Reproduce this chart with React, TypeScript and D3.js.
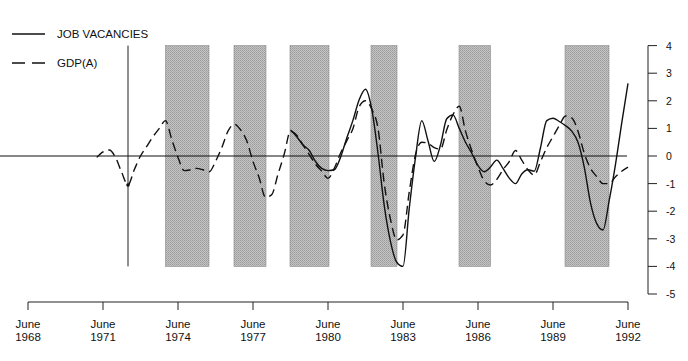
import React from "react";
import * as d3 from "d3";

// Quarterly data, decimal years (June YYYY = YYYY.5)
const gdpDates = [
  1971.25, 1971.5, 1971.75, 1972.0, 1972.25, 1972.5, 1972.75, 1973.0, 1973.25, 1973.5, 1973.75,
  1974.0, 1974.25, 1974.5, 1974.75, 1975.0, 1975.25, 1975.5, 1975.75, 1976.0, 1976.25, 1976.5, 1976.75,
  1977.0, 1977.25, 1977.5, 1977.75, 1978.0, 1978.25, 1978.5, 1978.75, 1979.0, 1979.25, 1979.5, 1979.75,
  1980.0, 1980.25, 1980.5, 1980.75, 1981.0, 1981.25, 1981.5, 1981.75, 1982.0, 1982.25, 1982.5, 1982.75,
  1983.0, 1983.25, 1983.5, 1983.75, 1984.0, 1984.25, 1984.5, 1984.75, 1985.0, 1985.25, 1985.5, 1985.75,
  1986.0, 1986.25, 1986.5, 1986.75, 1987.0, 1987.25, 1987.5, 1987.75, 1988.0, 1988.25, 1988.5, 1988.75,
  1989.0, 1989.25, 1989.5, 1989.75, 1990.0, 1990.25, 1990.5, 1990.75, 1991.0, 1991.25, 1991.5, 1991.75,
  1992.0, 1992.25, 1992.5,
];
const gdpValues = [
  -0.05, 0.15, 0.22, -0.05, -0.6, -1.05, -0.5, 0.0, 0.35, 0.7, 1.0,
  1.28, 0.6, -0.05, -0.53, -0.5, -0.45, -0.5, -0.57, -0.2, 0.3, 0.9, 1.15,
  0.95, 0.55, -0.2, -0.8, -1.5, -1.4, -0.66, 0.07, 0.9, 0.75, 0.4, 0.05,
  -0.3, -0.55, -0.81, -0.45, 0.1, 0.55, 1.0, 1.79, 2.0, 1.7, 1.0, -1.0,
  -2.3, -3.04, -2.86, -1.3, 0.05, 0.5, 0.46, 0.3, 0.25, 0.95, 1.5, 1.8,
  0.9, 0.2, -0.4, -0.9, -1.05, -0.85, -0.5, -0.2, 0.2, -0.15, -0.5, -0.69,
  -0.2, 0.3, 0.7, 1.1, 1.45, 1.38, 0.9, 0.1, -0.45, -0.75, -1.0, -1.0,
  -0.75, -0.55, -0.4,
];

const jvDates = [
  1979.0, 1979.25, 1979.5, 1979.75, 1980.0, 1980.25, 1980.5, 1980.75, 1981.0, 1981.25, 1981.5, 1981.75,
  1982.0, 1982.25, 1982.5, 1982.75, 1983.0, 1983.25, 1983.5, 1983.75, 1984.0, 1984.25, 1984.5, 1984.75,
  1985.0, 1985.25, 1985.5, 1985.75, 1986.0, 1986.25, 1986.5, 1986.75, 1987.0, 1987.25, 1987.5, 1987.75,
  1988.0, 1988.25, 1988.5, 1988.75, 1989.0, 1989.25, 1989.5, 1989.75, 1990.0, 1990.25, 1990.5, 1990.75,
  1991.0, 1991.25, 1991.5, 1991.75, 1992.0, 1992.25, 1992.5,
];
const jvValues = [
  0.94, 0.7, 0.4, 0.2, -0.2, -0.45, -0.53, -0.5, -0.05, 0.65, 1.3, 2.05,
  2.42, 1.7, 0.1, -1.8, -3.1, -3.85, -4.0, -1.9, -0.05, 1.28, 0.55, -0.2,
  0.4, 1.35, 1.49, 1.0, 0.5, 0.1, -0.35, -0.57, -0.4, -0.15, -0.45, -0.8,
  -1.0, -0.65, -0.5, -0.55, 0.3, 1.28, 1.37, 1.25, 1.1, 0.9, 0.5, -0.4,
  -1.7, -2.45, -2.68, -1.6, -0.3, 1.2, 2.63,
];

// Shaded periods (start, end) in decimal years
const shadeStarts = [1974.0, 1976.74, 1978.98, 1982.22, 1985.74, 1989.98];
const shadeEnds = [1975.74, 1978.02, 1980.54, 1983.26, 1987.0, 1991.74];
const markerDate = 1972.5;

const xTickYears = [1968, 1971, 1974, 1977, 1980, 1983, 1986, 1989, 1992];
const yTicks = [4, 3, 2, 1, 0, -1, -2, -3, -4, -5];

const FONT = "'Liberation Sans', Arial, Helvetica, sans-serif";

export default function App() {
  const W = 688;
  const H = 361;
  const x = d3.scaleLinear().domain([1968.5, 1992.5]).range([28, 628]);
  const y = d3.scaleLinear().domain([-5, 4]).range([294, 45.6]);
  const axisX = 648;
  const axisY = 302;

  const line = d3
    .line<[number, number]>()
    .x((d) => x(d[0]))
    .y((d) => y(d[1]))
    .curve(d3.curveMonotoneX);

  const gdp: [number, number][] = gdpDates.map((d, i) => [d, gdpValues[i]]);
  const jv: [number, number][] = jvDates.map((d, i) => [d, jvValues[i]]);
  const markerVal = gdpValues[gdpDates.indexOf(markerDate)];

  return (
    <svg
      width={W}
      height={H}
      style={{ position: "absolute", left: 0, top: 0, background: "#fff" }}
      fontFamily={FONT}
    >
      <defs>
        <pattern id="stip" width="2" height="2" patternUnits="userSpaceOnUse">
          <rect width="2" height="2" fill="#c4c4c4" />
          <rect width="1" height="1" fill="#9a9a9a" />
          <rect x="1" y="1" width="1" height="1" fill="#a8a8a8" />
        </pattern>
      </defs>
      {/* shaded periods */}
      {shadeStarts.map((s, i) => (
        <rect
          key={i}
          x={x(s)}
          y={y(4)}
          width={x(shadeEnds[i]) - x(s)}
          height={y(-4) - y(4)}
          fill="url(#stip)"
          stroke="#8a8a8a"
          strokeWidth={0.6}
        />
      ))}
      {/* marker vertical line */}
      <line x1={x(markerDate)} x2={x(markerDate)} y1={y(4)} y2={y(-4)} stroke="#222" strokeWidth={1} />
      {/* zero line */}
      <line x1={0} x2={x(1992.5) - 1} y1={y(0)} y2={y(0)} stroke="#111" strokeWidth={1.1} />
      {/* series */}
      <path d={line(gdp) || ""} fill="none" stroke="#111" strokeWidth={1.4} strokeDasharray="9,5" />
      <path d={line(jv) || ""} fill="none" stroke="#111" strokeWidth={1.4} />
      <circle cx={x(markerDate)} cy={y(markerVal)} r={1.8} fill="#111" />

      {/* right axis */}
      <line x1={axisX} x2={axisX} y1={y(4)} y2={y(-5)} stroke="#222" strokeWidth={1} />
      {yTicks.map((t) => (
        <g key={t}>
          <line x1={axisX} x2={axisX + 9} y1={y(t)} y2={y(t)} stroke="#222" strokeWidth={1} />
          <text x={666} y={y(t) + 4} fontSize={10.5} fill="#111">
            {t}
          </text>
        </g>
      ))}

      {/* bottom axis */}
      <line x1={x(1968.5)} x2={x(1992.5)} y1={axisY} y2={axisY} stroke="#222" strokeWidth={1} />
      {xTickYears.map((yr) => (
        <g key={yr}>
          <line x1={x(yr + 0.5)} x2={x(yr + 0.5)} y1={axisY} y2={axisY + 8} stroke="#222" strokeWidth={1} />
          <text x={x(yr + 0.5)} y={328} fontSize={11.5} textAnchor="middle" fill="#111">
            June
          </text>
          <text x={x(yr + 0.5)} y={341} fontSize={11.5} textAnchor="middle" fill="#111">
            {yr}
          </text>
        </g>
      ))}

      {/* legend */}
      <line x1={12} x2={45} y1={34} y2={34} stroke="#111" strokeWidth={1.3} />
      <text x={57} y={38} fontSize={11.5} fill="#111">
        JOB VACANCIES
      </text>
      <line x1={12} x2={45} y1={63} y2={63} stroke="#111" strokeWidth={1.3} strokeDasharray="13,7" />
      <text x={57} y={67} fontSize={11.5} fill="#111">
        GDP(A)
      </text>
    </svg>
  );
}
